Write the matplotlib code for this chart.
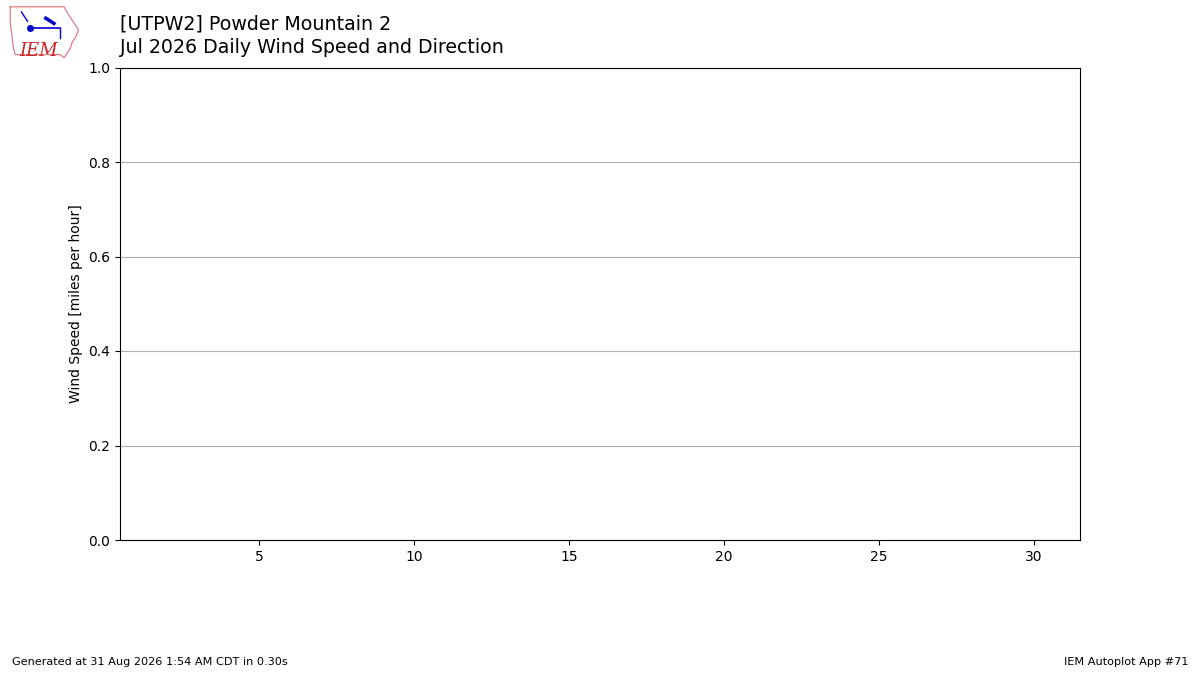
import matplotlib
matplotlib.use("Agg")
import matplotlib.pyplot as plt

# daily values for the month (no observations available)
days = []
avg_speed = []
direction = []

station = "[UTPW2] Powder Mountain 2"
subtitle = "Jul 2026 Daily Wind Speed and Direction"
footer_left = "Generated at 31 Aug 2026 1:54 AM CDT in 0.30s"
footer_right = "IEM Autoplot App #71"
xticks = [5, 10, 15, 20, 25, 30]

fig = plt.figure(figsize=(12, 6.75), dpi=100)
ax = fig.add_axes([0.1, 0.2, 0.8, 0.7])
ax.bar(days, avg_speed, color="tab:blue")
ax.set_xlim(0.5, 31.5)
ax.set_ylim(0, 1)
ax.set_xticks(xticks)
ax.set_yticks([0, 0.2, 0.4, 0.6, 0.8, 1.0])
ax.grid(True, axis="y")
ax.set_axisbelow(True)
ax.set_ylabel("Wind Speed [miles per hour]")

fig.text(0.1, 0.965, station, fontsize=13.7, va="center", ha="left")
fig.text(0.1, 0.929, subtitle, fontsize=13.7, va="center", ha="left")
fig.text(0.01, 0.015, footer_left, fontsize=8.1)
fig.text(0.99, 0.015, footer_right, fontsize=8.1, ha="right")

# small IEM logo
lax = fig.add_axes([0.006, 0.913, 0.061, 0.08])
lax.set_xlim(0, 72)
lax.set_ylim(0, 52)
lax.axis("off")
outline_x = [3, 56, 58, 62, 66, 70, 68, 64, 62, 58, 56, 52, 8, 6, 5, 3, 3]
outline_y = [50, 50, 46, 40, 34, 28, 22, 16, 10, 4, 1, 4, 4, 10, 20, 34, 50]
lax.plot(outline_x, outline_y, color="#e07070", lw=0.8)
lax.plot([22, 52], [30, 30], color="#0000cc", lw=1.2)
lax.plot(22, 30, "o", color="#0000cc", ms=4)
lax.plot([38, 46], [39, 34], color="#0000cc", lw=2.5)
lax.plot([52, 52], [30, 20], color="#0000cc", lw=1)
lax.plot([14, 20], [45, 36], color="#0000cc", lw=1)
lax.text(12, 3, "IEM", color="#cc2222", fontsize=13, family="DejaVu Serif",
         style="italic")

fig.savefig("out.png", dpi=100)
